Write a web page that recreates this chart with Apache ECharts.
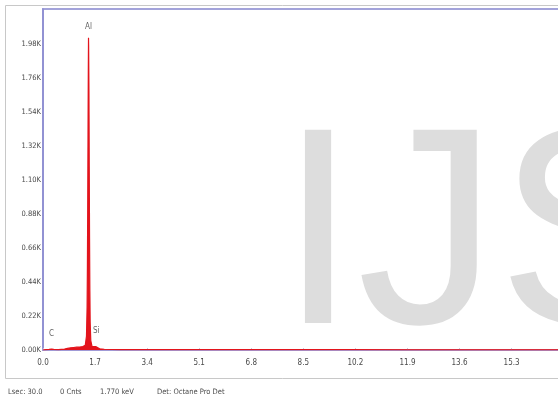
<!DOCTYPE html>
<html>
<head>
<meta charset="utf-8">
<script src="https://cdn.jsdelivr.net/npm/echarts@6/dist/echarts.min.js"></script>
<style>
  html, body { margin: 0; padding: 0; background: #ffffff; }
  #chart { width: 558px; height: 403px; }
</style>
</head>
<body>
<div id="chart"></div>
<script>
// EDS spectrum: energy (keV) vs counts
const energyKeV = [0.00, 0.10, 0.20, 0.28, 0.35, 0.50, 0.70, 0.80, 0.90, 1.00, 1.10, 1.20, 1.30, 1.38,
  1.42, 1.44, 1.45, 1.46, 1.47, 1.48, 1.486, 1.49, 1.50, 1.51, 1.52, 1.53, 1.54, 1.56, 1.60, 1.66,
  1.72, 1.74, 1.77, 1.85, 2.00, 2.50, 3.00, 4.00, 5.00, 6.00, 6.40, 6.80, 8.00, 10.0, 12.0, 14.0, 16.0, 17.5];
const counts = [0, 2, 4, 6, 4, 3, 6, 10, 14, 16, 18, 19, 22, 30,
  90, 280, 540, 920, 1400, 1830, 2020, 1970, 1680, 1180, 720, 380, 180, 60, 24, 16,
  22, 26, 18, 8, 5, 3, 2, 2, 2, 2, 3, 2, 2, 2, 1, 1, 1, 1];

// Element peak labels
const elements = ['C', 'Al', 'Si'];
const elementKeV = [0.277, 1.486, 1.74];
const elementCounts = [6, 2020, 26];

// Axis tick labels
const xTicks = ['0.0', '1.7', '3.4', '5.1', '6.8', '8.5', '10.2', '11.9', '13.6', '15.3'];
const yTicks = ['0.00K', '0.22K', '0.44K', '0.66K', '0.88K', '1.10K', '1.32K', '1.54K', '1.76K', '1.98K'];

// Status line under the spectrum
const statusItems = ['Lsec: 30.0', '0 Cnts', '1.770 keV', 'Det: Octane Pro Det'];
const statusX = [8, 60, 100, 157];

const FONT = '"Liberation Sans Narrow", "DejaVu Sans Condensed", sans-serif';

const spectrum = energyKeV.map((e, i) => [e, counts[i]]);
const peaks = elements.map((n, i) => ({
  name: n,
  value: [elementKeV[i], elementCounts[i]],
  label: { distance: n === 'Al' ? 7 : 11 }
}));

const chart = echarts.init(document.getElementById('chart'), null, { renderer: 'canvas' });

chart.setOption({
  animation: false,
  backgroundColor: '#ffffff',
  grid: {
    left: 43, top: 9, bottom: 53, width: 536,
    outerBoundsMode: 'none', containLabel: false,
    show: true, backgroundColor: '#ffffff', borderColor: '#a3a3da', borderWidth: 2
  },
  xAxis: {
    type: 'value', min: 0, max: 17.5, interval: 1.7,
    axisLine: { show: true, lineStyle: { color: '#a09ad6', width: 2 } },
    axisTick: { show: true, inside: true, length: 2, lineStyle: { color: '#c8c8e0' } },
    splitLine: { show: false },
    axisLabel: {
      margin: 9, fontFamily: FONT, fontSize: 8, color: '#4a4a4a',
      showMaxLabel: false,
      formatter: v => {
        const k = Math.round(v / 1.7);
        return (Math.abs(v - k * 1.7) < 1e-6 && k < xTicks.length) ? xTicks[k] : '';
      }
    }
  },
  yAxis: {
    type: 'value', min: 0, max: 2206, interval: 220,
    axisLine: { show: true, lineStyle: { color: '#8c8cd0', width: 1.5 } },
    axisTick: { show: false },
    splitLine: { show: false },
    axisLabel: {
      margin: 2, fontFamily: FONT, fontSize: 7.5, color: '#4a4a4a',
      showMaxLabel: false,
      formatter: v => {
        const k = Math.round(v / 220);
        return (Math.abs(v - k * 220) < 1e-6 && k < yTicks.length) ? yTicks[k] : '';
      }
    }
  },
  series: [
    {
      type: 'line',
      data: spectrum,
      symbol: 'none',
      smooth: false,
      lineStyle: { color: '#e3141c', width: 1.2 },
      areaStyle: { color: '#e3141c', opacity: 1 },
      z: 3
    },
    {
      type: 'scatter',
      data: peaks,
      symbolSize: 0,
      label: {
        show: true, position: 'top', formatter: p => p.name,
        fontFamily: FONT, fontSize: 8, color: '#3a3a3a'
      },
      z: 4
    }
  ],
  graphic: [
    {
      type: 'rect', silent: true, z: -10,
      shape: { x: 5.5, y: 5.5, width: 600, height: 373 },
      style: { fill: 'none', stroke: '#c8c8c8', lineWidth: 1 }
    },
    {
      type: 'text', silent: true, z: 100,
      left: 279, top: 105,
      style: {
        text: 'IJSER', fontFamily: '"Liberation Sans", Arial, sans-serif',
        fontSize: 281, fill: '#dddddd'
      }
    }
  ].concat(statusItems.map((t, i) => ({
    type: 'text', silent: true,
    left: statusX[i], top: 388,
    style: { text: t, fontFamily: FONT, fontSize: 7.5, fill: '#4a4a4a' }
  })))
});
</script>
</body>
</html>
